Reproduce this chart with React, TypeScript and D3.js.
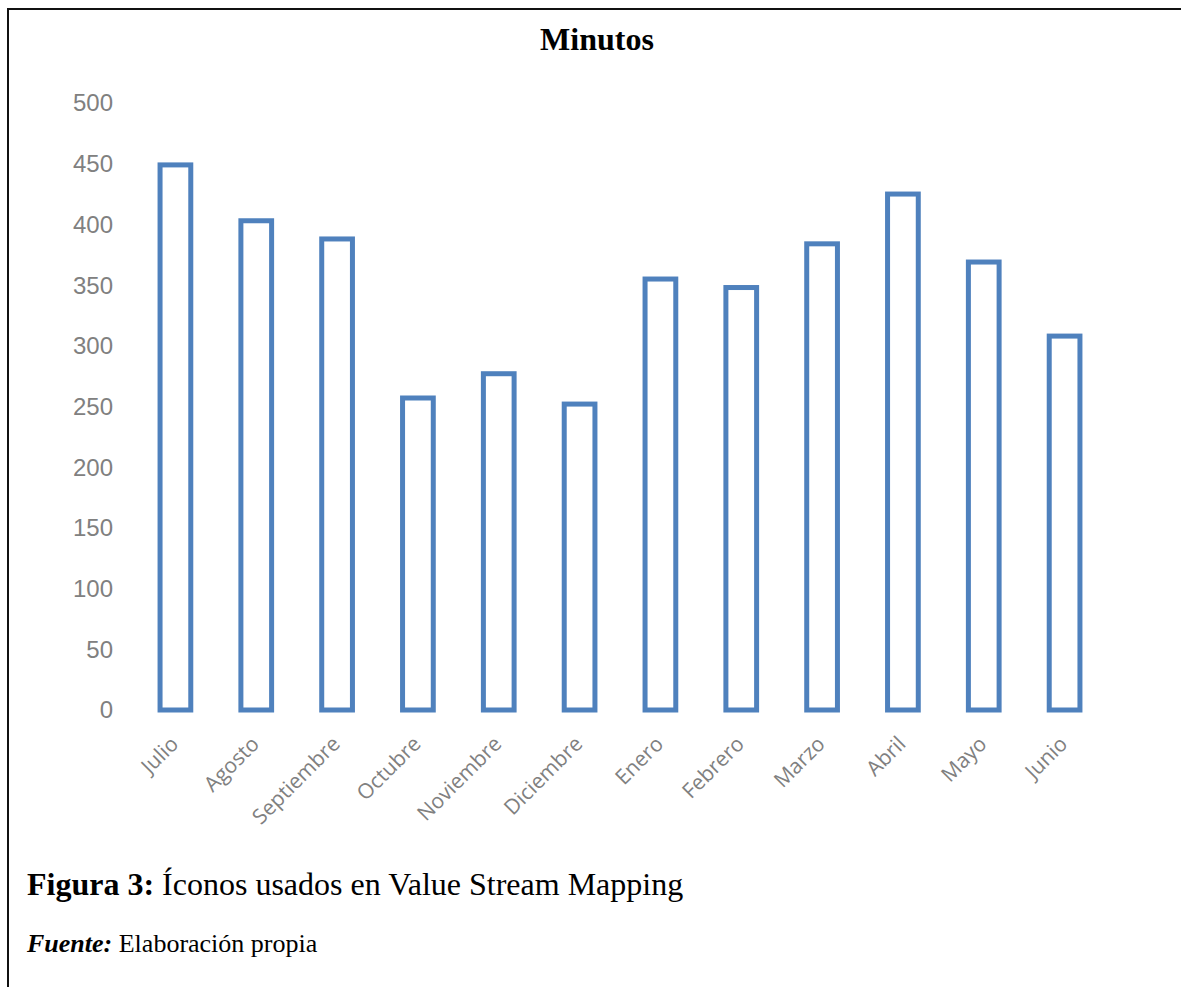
import { useEffect, useRef } from 'react';
import * as d3 from 'd3';

const months = [
  'Julio', 'Agosto', 'Septiembre', 'Octubre', 'Noviembre', 'Diciembre',
  'Enero', 'Febrero', 'Marzo', 'Abril', 'Mayo', 'Junio',
];
const minutes = [449, 403, 388, 257, 277, 252, 355, 348, 384, 425, 369, 308];
const yTicks = [0, 50, 100, 150, 200, 250, 300, 350, 400, 450, 500];

export default function App() {
  const svgRef = useRef<SVGSVGElement>(null);

  useEffect(() => {
    const width = 1181;
    const height = 987;
    const barColor = '#4f81bd';
    const axisGray = '#808080';

    const x = d3
      .scaleBand()
      .domain(months)
      .range([135, 1105])
      .paddingInner(0.62)
      .paddingOuter(0.31);

    const y = d3.scaleLinear().domain([0, 500]).range([710, 103]);

    const svg = d3.select(svgRef.current);
    svg.selectAll('*').remove();

    svg.append('rect').attr('width', width).attr('height', height).attr('fill', '#fff');

    // frame
    svg
      .append('rect')
      .attr('x', 8)
      .attr('y', 9)
      .attr('width', 1190)
      .attr('height', 1000)
      .attr('fill', 'none')
      .attr('stroke', '#111')
      .attr('stroke-width', 2);

    // title
    svg
      .append('text')
      .attr('x', 597)
      .attr('y', 50)
      .attr('text-anchor', 'middle')
      .style('font-family', '"Liberation Serif", "Times New Roman", serif')
      .style('font-weight', 'bold')
      .style('font-size', '32px')
      .text('Minutos');

    // y axis labels
    svg
      .append('g')
      .selectAll('text')
      .data(yTicks)
      .enter()
      .append('text')
      .attr('x', 113)
      .attr('y', d => y(d))
      .attr('dy', '0.35em')
      .attr('text-anchor', 'end')
      .attr('fill', axisGray)
      .style('font-family', '"Liberation Sans", Arial, sans-serif')
      .style('font-size', '24px')
      .text(d => d);

    // bars
    svg
      .append('g')
      .selectAll('rect')
      .data(minutes)
      .enter()
      .append('rect')
      .attr('x', (d, i) => x(months[i])!)
      .attr('y', d => y(d))
      .attr('width', x.bandwidth())
      .attr('height', d => y(0) - y(d))
      .attr('fill', '#fff')
      .attr('stroke', barColor)
      .attr('stroke-width', 5);

    // x labels, rotated
    svg
      .append('g')
      .selectAll('text')
      .data(months)
      .enter()
      .append('text')
      .attr('transform', d => `translate(${x(d)! + x.bandwidth() / 2 - 1},${740}) rotate(-45)`)
      .attr('dy', '0.35em')
      .attr('text-anchor', 'end')
      .attr('fill', axisGray)
      .style('font-family', '"Open Sans", "Noto Sans", sans-serif')
      .style('font-size', '21px')
      .text(d => d);

    // caption
    const cap = svg
      .append('text')
      .attr('x', 27)
      .attr('y', 895)
      .style('font-family', '"Liberation Serif", "Times New Roman", serif')
      .style('font-size', '32px');
    cap.append('tspan').style('font-weight', 'bold').text('Figura 3:');
    cap.append('tspan').text(' Íconos usados en Value Stream Mapping');

    const src = svg
      .append('text')
      .attr('x', 27)
      .attr('y', 952)
      .style('font-family', '"Liberation Serif", "Times New Roman", serif')
      .style('font-size', '26px');
    src.append('tspan').style('font-weight', 'bold').style('font-style', 'italic').text('Fuente:');
    src.append('tspan').text(' Elaboración propia');
  }, []);

  return (
    <div style={{ position: 'absolute', left: 0, top: 0 }}>
      <svg ref={svgRef} width={1181} height={987} style={{ display: 'block' }}></svg>
    </div>
  );
}
